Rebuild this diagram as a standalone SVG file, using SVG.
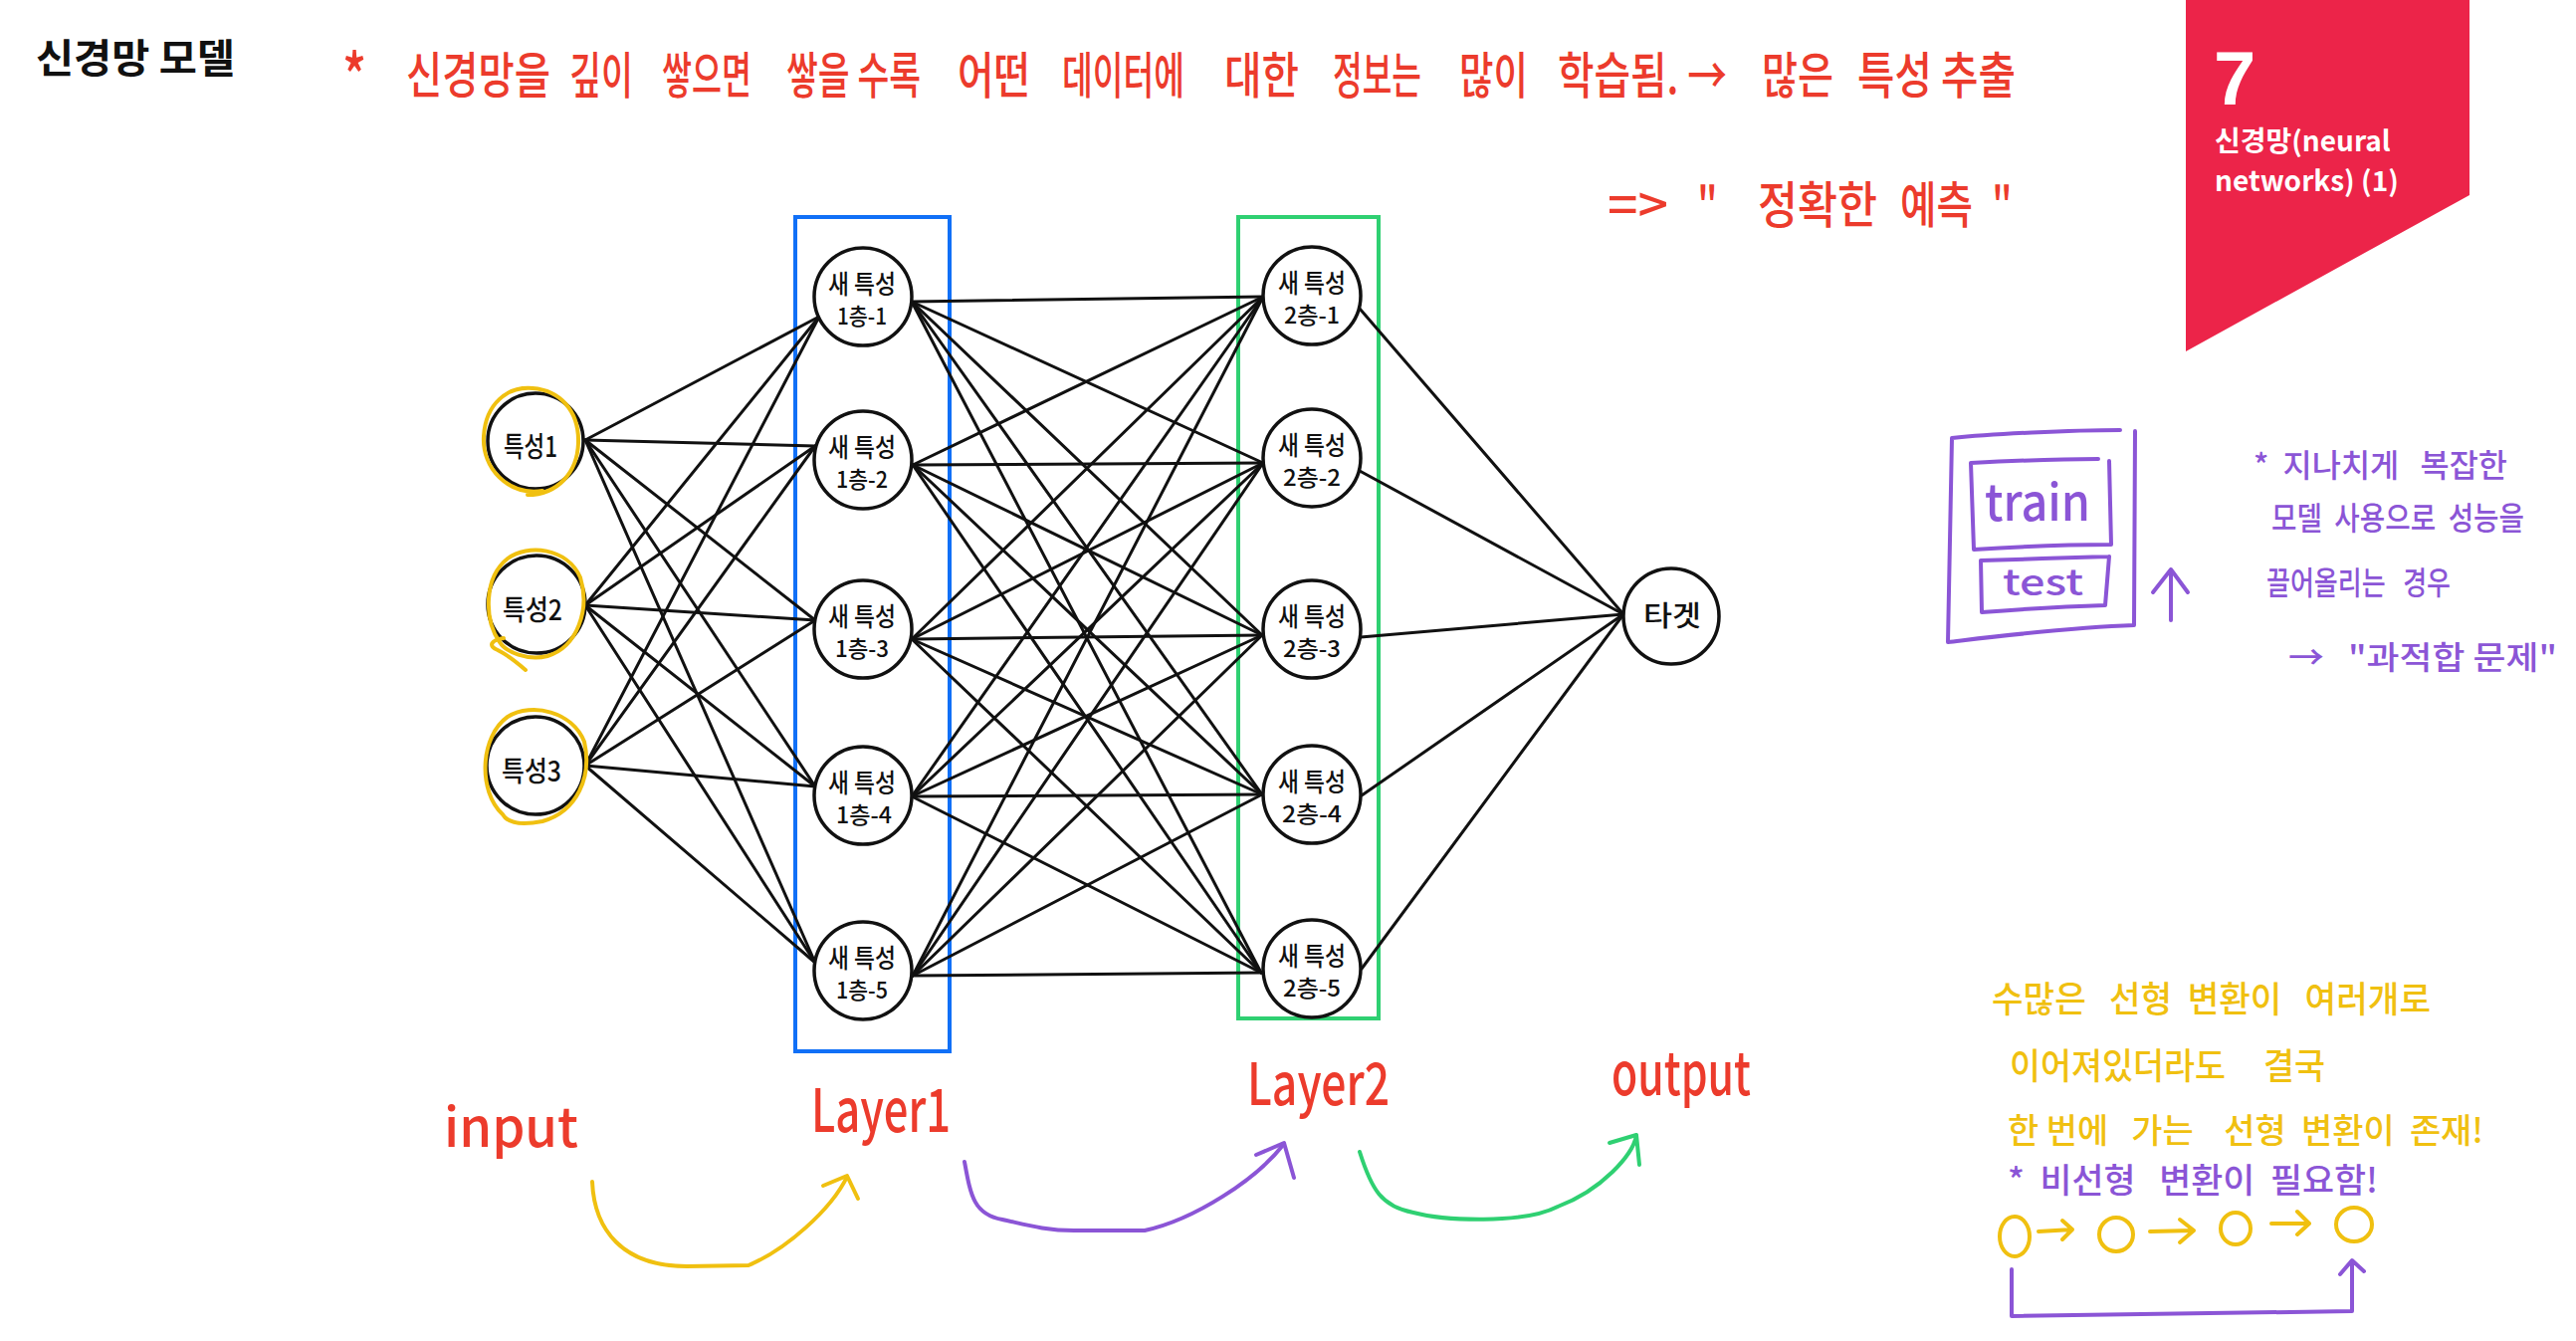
<svg xmlns="http://www.w3.org/2000/svg" width="2588" height="1347" viewBox="0 0 2588 1347">
<style>
.edge{stroke:#111;stroke-width:3;fill:none;stroke-linecap:round}
.node{fill:#fff;stroke:#111;stroke-width:3.5}
.nt{font-family:"Noto Sans CJK KR","Noto Sans",sans-serif;font-weight:500;fill:#111;text-anchor:middle}
.red{font-family:"Noto Sans CJK KR","Noto Sans",sans-serif;fill:#ec3b2c;font-weight:500}
.pur{font-family:"Noto Sans CJK KR","Noto Sans",sans-serif;fill:#8b55d6;font-weight:500}
.yel{font-family:"Noto Sans CJK KR","Noto Sans",sans-serif;fill:#f0c010;font-weight:500}
.wh{font-family:"Noto Sans CJK KR","Noto Sans",sans-serif;fill:#fff;font-weight:700}
.ps{stroke:#8b55d6;stroke-width:4;fill:none;stroke-linecap:round;stroke-linejoin:round}
.ys{stroke:#f0c010;stroke-width:4;fill:none;stroke-linecap:round;stroke-linejoin:round}
.gs{stroke:#2fd072;stroke-width:4;fill:none;stroke-linecap:round;stroke-linejoin:round}
.t40{font-size:40px}
</style>
<rect width="2588" height="1347" fill="#fff"/>

<g id="title">
<text x="36" y="73" font-family="Noto Sans CJK KR, sans-serif" font-weight="700" font-size="40" fill="#111" textLength="200" lengthAdjust="spacingAndGlyphs">신경망 모델</text>
</g>

<g id="banner">
<polygon points="2196,0 2481,0 2481,196 2196,353" fill="#ec2449"/>
<text x="2224" y="105" font-family="Liberation Sans, Arial, sans-serif" font-weight="700" font-size="76" fill="#fff">7</text>
<text class="wh" x="2225" y="152" font-size="28">신경망(neural</text>
<text class="wh" x="2225" y="192" font-size="28">networks) (1)</text>
</g>

<g id="note-top" transform="scale(1,1.25)">
<text class="red" x="344" y="80" font-size="50">*</text>
<text class="red t40" x="408" y="75.2" textLength="145" lengthAdjust="spacingAndGlyphs">신경망을</text>
<text class="red t40" x="572" y="75.2" textLength="64" lengthAdjust="spacingAndGlyphs">깊이</text>
<text class="red t40" x="665" y="75.2" textLength="90" lengthAdjust="spacingAndGlyphs">쌓으면</text>
<text class="red t40" x="790" y="75.2" textLength="135" lengthAdjust="spacingAndGlyphs">쌓을 수록</text>
<text class="red t40" x="962" y="75.2" textLength="73" lengthAdjust="spacingAndGlyphs">어떤</text>
<text class="red t40" x="1067" y="75.2" textLength="123" lengthAdjust="spacingAndGlyphs">데이터에</text>
<text class="red t40" x="1230" y="75.2" textLength="75" lengthAdjust="spacingAndGlyphs">대한</text>
<text class="red t40" x="1339" y="75.2" textLength="89" lengthAdjust="spacingAndGlyphs">정보는</text>
<text class="red t40" x="1466" y="75.2" textLength="69" lengthAdjust="spacingAndGlyphs">많이</text>
<text class="red t40" x="1565" y="75.2" textLength="170" lengthAdjust="spacingAndGlyphs">학습됨. →</text>
<text class="red t40" x="1770" y="75.2" textLength="72" lengthAdjust="spacingAndGlyphs">많은</text>
<text class="red t40" x="1866" y="75.2" textLength="159" lengthAdjust="spacingAndGlyphs">특성 추출</text>
<text class="red t40" x="1615" y="179.2" textLength="61" lengthAdjust="spacingAndGlyphs">=&gt;</text>
<text class="red t40" x="1705" y="179.2">"</text>
<text class="red t40" x="1766" y="179.2" textLength="120" lengthAdjust="spacingAndGlyphs">정확한</text>
<text class="red t40" x="1909" y="179.2" textLength="73" lengthAdjust="spacingAndGlyphs">예측</text>
<text class="red t40" x="2001" y="179.2">"</text>
</g>

<g id="layer-boxes">
<rect x="799" y="218" width="155" height="838" fill="none" stroke="#1170f7" stroke-width="4"/>
<rect x="1244" y="218" width="141" height="805" fill="none" stroke="#2fd072" stroke-width="4"/>
</g>

<g id="connectors">
<line class="edge" x1="588" y1="442" x2="823" y2="318"/>
<line class="edge" x1="588" y1="442" x2="819" y2="448"/>
<line class="edge" x1="588" y1="442" x2="819" y2="623"/>
<line class="edge" x1="588" y1="442" x2="819" y2="790"/>
<line class="edge" x1="588" y1="442" x2="819" y2="967"/>
<line class="edge" x1="588" y1="608" x2="823" y2="318"/>
<line class="edge" x1="588" y1="608" x2="819" y2="448"/>
<line class="edge" x1="588" y1="608" x2="819" y2="623"/>
<line class="edge" x1="588" y1="608" x2="819" y2="790"/>
<line class="edge" x1="588" y1="608" x2="819" y2="967"/>
<line class="edge" x1="588" y1="769" x2="823" y2="318"/>
<line class="edge" x1="588" y1="769" x2="819" y2="448"/>
<line class="edge" x1="588" y1="769" x2="819" y2="623"/>
<line class="edge" x1="588" y1="769" x2="819" y2="790"/>
<line class="edge" x1="588" y1="769" x2="819" y2="967"/>

<line class="edge" x1="916" y1="303" x2="1269" y2="298"/>
<line class="edge" x1="916" y1="303" x2="1269" y2="465"/>
<line class="edge" x1="916" y1="303" x2="1268" y2="638"/>
<line class="edge" x1="916" y1="303" x2="1268" y2="798"/>
<line class="edge" x1="916" y1="303" x2="1267" y2="977"/>
<line class="edge" x1="917" y1="467" x2="1269" y2="298"/>
<line class="edge" x1="917" y1="467" x2="1269" y2="465"/>
<line class="edge" x1="917" y1="467" x2="1268" y2="638"/>
<line class="edge" x1="917" y1="467" x2="1268" y2="798"/>
<line class="edge" x1="917" y1="467" x2="1267" y2="977"/>
<line class="edge" x1="916" y1="642" x2="1269" y2="298"/>
<line class="edge" x1="916" y1="642" x2="1269" y2="465"/>
<line class="edge" x1="916" y1="642" x2="1268" y2="638"/>
<line class="edge" x1="916" y1="642" x2="1268" y2="798"/>
<line class="edge" x1="916" y1="642" x2="1267" y2="977"/>
<line class="edge" x1="916" y1="800" x2="1269" y2="298"/>
<line class="edge" x1="916" y1="800" x2="1269" y2="465"/>
<line class="edge" x1="916" y1="800" x2="1268" y2="638"/>
<line class="edge" x1="916" y1="800" x2="1268" y2="798"/>
<line class="edge" x1="916" y1="800" x2="1267" y2="977"/>
<line class="edge" x1="917" y1="980" x2="1269" y2="298"/>
<line class="edge" x1="917" y1="980" x2="1269" y2="465"/>
<line class="edge" x1="917" y1="980" x2="1268" y2="638"/>
<line class="edge" x1="917" y1="980" x2="1268" y2="798"/>
<line class="edge" x1="917" y1="980" x2="1267" y2="977"/>

<line class="edge" x1="1366" y1="310" x2="1631" y2="617"/>
<line class="edge" x1="1366" y1="473" x2="1631" y2="617"/>
<line class="edge" x1="1367" y1="640" x2="1631" y2="617"/>
<line class="edge" x1="1368" y1="799" x2="1631" y2="617"/>
<line class="edge" x1="1368" y1="973" x2="1631" y2="617"/>
</g>

<g id="node-in1">
<circle class="node" cx="538" cy="443" r="48"/>
<path class="ys" d="M545,493 C510,498 484,470 486,438 C488,405 510,388 535,390 C562,392 582,412 581,445 C580,475 560,497 530,497"/>
<text class="nt" x="533" y="459" font-size="28" textLength="54" lengthAdjust="spacingAndGlyphs">특성1</text>
</g>
<g id="node-in2">
<circle class="node" cx="539" cy="607" r="49"/>
<path class="ys" d="M502,645 C486,622 486,580 510,561 C530,546 570,550 583,580 C593,612 580,650 550,659 C530,664 508,655 502,645"/>
<path class="ys" d="M506,641 C493,643 490,649 500,653 C510,658 520,666 528,673"/>
<text class="nt" x="535" y="623" font-size="28" textLength="60" lengthAdjust="spacingAndGlyphs">특성2</text>
</g>
<g id="node-in3">
<circle class="node" cx="538" cy="769" r="49"/>
<path class="ys" d="M505,818 C480,795 482,740 510,720 C535,705 575,715 587,745 C595,780 580,815 545,825 C525,829 510,827 505,818"/>
<text class="nt" x="534" y="785" font-size="28" textLength="60" lengthAdjust="spacingAndGlyphs">특성3</text>
</g>

<g id="node-l1-1"><circle class="node" cx="867" cy="298" r="49"/><text class="nt"><tspan x="866" y="295" font-size="26" textLength="68" lengthAdjust="spacingAndGlyphs">새 특성</tspan><tspan x="866" y="326" font-size="23" textLength="50" lengthAdjust="spacingAndGlyphs">1층-1</tspan></text></g>
<g id="node-l1-2"><circle class="node" cx="867" cy="462" r="49"/><text class="nt"><tspan x="866" y="459" font-size="26" textLength="68" lengthAdjust="spacingAndGlyphs">새 특성</tspan><tspan x="866" y="490" font-size="23" textLength="52" lengthAdjust="spacingAndGlyphs">1층-2</tspan></text></g>
<g id="node-l1-3"><circle class="node" cx="867" cy="632" r="49"/><text class="nt"><tspan x="866" y="629" font-size="26" textLength="68" lengthAdjust="spacingAndGlyphs">새 특성</tspan><tspan x="866" y="660" font-size="23" textLength="54" lengthAdjust="spacingAndGlyphs">1층-3</tspan></text></g>
<g id="node-l1-4"><circle class="node" cx="867" cy="799" r="49"/><text class="nt"><tspan x="866" y="796" font-size="26" textLength="68" lengthAdjust="spacingAndGlyphs">새 특성</tspan><tspan x="868" y="827" font-size="23" textLength="56" lengthAdjust="spacingAndGlyphs">1층-4</tspan></text></g>
<g id="node-l1-5"><circle class="node" cx="867" cy="975" r="49"/><text class="nt"><tspan x="866" y="972" font-size="26" textLength="68" lengthAdjust="spacingAndGlyphs">새 특성</tspan><tspan x="866" y="1003" font-size="23" textLength="52" lengthAdjust="spacingAndGlyphs">1층-5</tspan></text></g>

<g id="node-l2-1"><circle class="node" cx="1318" cy="297" r="49"/><text class="nt"><tspan x="1318" y="294" font-size="26" textLength="68" lengthAdjust="spacingAndGlyphs">새 특성</tspan><tspan x="1318" y="325" font-size="23" textLength="56" lengthAdjust="spacingAndGlyphs">2층-1</tspan></text></g>
<g id="node-l2-2"><circle class="node" cx="1318" cy="460" r="49"/><text class="nt"><tspan x="1318" y="457" font-size="26" textLength="68" lengthAdjust="spacingAndGlyphs">새 특성</tspan><tspan x="1318" y="488" font-size="23" textLength="58" lengthAdjust="spacingAndGlyphs">2층-2</tspan></text></g>
<g id="node-l2-3"><circle class="node" cx="1318" cy="632" r="49"/><text class="nt"><tspan x="1318" y="629" font-size="26" textLength="68" lengthAdjust="spacingAndGlyphs">새 특성</tspan><tspan x="1318" y="660" font-size="23" textLength="58" lengthAdjust="spacingAndGlyphs">2층-3</tspan></text></g>
<g id="node-l2-4"><circle class="node" cx="1318" cy="798" r="49"/><text class="nt"><tspan x="1318" y="795" font-size="26" textLength="68" lengthAdjust="spacingAndGlyphs">새 특성</tspan><tspan x="1318" y="826" font-size="23" textLength="60" lengthAdjust="spacingAndGlyphs">2층-4</tspan></text></g>
<g id="node-l2-5"><circle class="node" cx="1318" cy="973" r="49"/><text class="nt"><tspan x="1318" y="970" font-size="26" textLength="68" lengthAdjust="spacingAndGlyphs">새 특성</tspan><tspan x="1318" y="1001" font-size="23" textLength="58" lengthAdjust="spacingAndGlyphs">2층-5</tspan></text></g>

<g id="node-target"><circle class="node" cx="1679" cy="619" r="48"/><text class="nt" x="1680" y="629" font-size="28" textLength="58" lengthAdjust="spacingAndGlyphs">타겟</text></g>

<g id="layer-labels">
<text class="red" x="446" y="1152" font-size="54" textLength="135" lengthAdjust="spacingAndGlyphs">input</text>
<text class="red" x="815" y="1137" font-size="60" textLength="140" lengthAdjust="spacingAndGlyphs">Layer1</text>
<text class="red" x="1253" y="1110" font-size="58" textLength="143" lengthAdjust="spacingAndGlyphs">Layer2</text>
<text class="red" x="1619" y="1100" font-size="60" textLength="140" lengthAdjust="spacingAndGlyphs">output</text>
</g>

<g id="flow-arrows">
<path class="ys" d="M595,1187 C597,1235 625,1272 690,1272 L752,1271 C790,1255 835,1215 851,1182"/>
<path class="ys" d="M827,1191 L851,1181 L862,1204"/>
<path class="ps" d="M969,1167 C975,1200 978,1220 1007,1225 C1030,1230 1050,1236 1079,1236 L1150,1236 C1200,1225 1262,1185 1290,1149"/>
<path class="ps" d="M1262,1160 L1290,1148 L1300,1183"/>
<path class="gs" d="M1366,1157 C1378,1195 1388,1212 1420,1218 C1450,1226 1530,1230 1565,1212 C1610,1195 1640,1160 1644,1141"/>
<path class="gs" d="M1617,1148 L1644,1140 L1647,1170"/>
</g>

<g id="overfit-note">
<path class="ps" d="M2130,432 C2080,432 2000,436 1961,440 L1957,645 C2000,640 2080,630 2144,628 L2145,433"/>
<path class="ps" d="M2108,461 C2070,461 2020,463 1980,465 L1983,552 C2030,549 2080,547 2121,547 L2119,463"/>
<path class="ps" d="M2119,559 C2080,560 2030,562 1990,563 L1991,615 C2030,612 2080,609 2115,608 L2119,559"/>
<text class="pur" x="1994" y="523" font-size="50" textLength="106" lengthAdjust="spacingAndGlyphs">train</text>
<text class="pur" x="2012" y="598" font-size="36" textLength="81" lengthAdjust="spacingAndGlyphs">test</text>
<path class="ps" d="M2181,623 L2181,572 M2163,595 L2181,572 L2198,595"/>
<text class="pur" x="2264" y="479" font-size="32" textLength="255" lengthAdjust="spacingAndGlyphs">*&#160;&#160;지나치게&#160;&#160;&#160;복잡한</text>
<text class="pur" x="2282" y="532" font-size="32" textLength="254" lengthAdjust="spacingAndGlyphs">모델&#160;&#160;사용으로&#160;&#160;성능을</text>
<text class="pur" x="2277" y="597" font-size="32" textLength="185" lengthAdjust="spacingAndGlyphs">끌어올리는&#160;&#160;&#160;경우</text>
<text class="pur" x="2299" y="672" font-size="32" textLength="270" lengthAdjust="spacingAndGlyphs">→&#160;&#160;&#160;"과적합&#160;문제"</text>
</g>

<g id="linear-note">
<text class="yel" x="2001" y="1017" font-size="36" textLength="441" lengthAdjust="spacingAndGlyphs">수많은&#160;&#160;&#160;선형&#160;&#160;변환이&#160;&#160;&#160;여러개로</text>
<text class="yel" x="2019" y="1084" font-size="36" textLength="317" lengthAdjust="spacingAndGlyphs">이어져있더라도&#160;&#160;&#160;&#160;&#160;결국</text>
<text class="yel" x="2017" y="1148" font-size="34" textLength="478" lengthAdjust="spacingAndGlyphs">한&#160;번에&#160;&#160;&#160;가는&#160;&#160;&#160;&#160;선형&#160;&#160;변환이&#160;&#160;존재!</text>
<text class="pur" x="2017" y="1198" font-size="34" textLength="372" lengthAdjust="spacingAndGlyphs">*&#160;&#160;비선형&#160;&#160;&#160;변환이&#160;&#160;필요함!</text>
<ellipse class="ys" cx="2024" cy="1242" rx="15" ry="20"/>
<path class="ys" d="M2048,1237 L2082,1235 M2072,1226 L2082,1235 L2072,1245"/>
<ellipse class="ys" cx="2126" cy="1240" rx="17" ry="17"/>
<path class="ys" d="M2160,1237 L2204,1236 M2190,1225 L2204,1236 L2190,1248"/>
<ellipse class="ys" cx="2246" cy="1234" rx="15" ry="16"/>
<path class="ys" d="M2282,1229 L2320,1229 M2308,1217 L2320,1229 L2308,1240"/>
<ellipse class="ys" cx="2365" cy="1230" rx="18" ry="17"/>
<path class="ps" d="M2021,1275 L2021,1322 L2363,1317 L2363,1268 M2351,1280 L2363,1266 L2375,1277"/>
</g>
</svg>
